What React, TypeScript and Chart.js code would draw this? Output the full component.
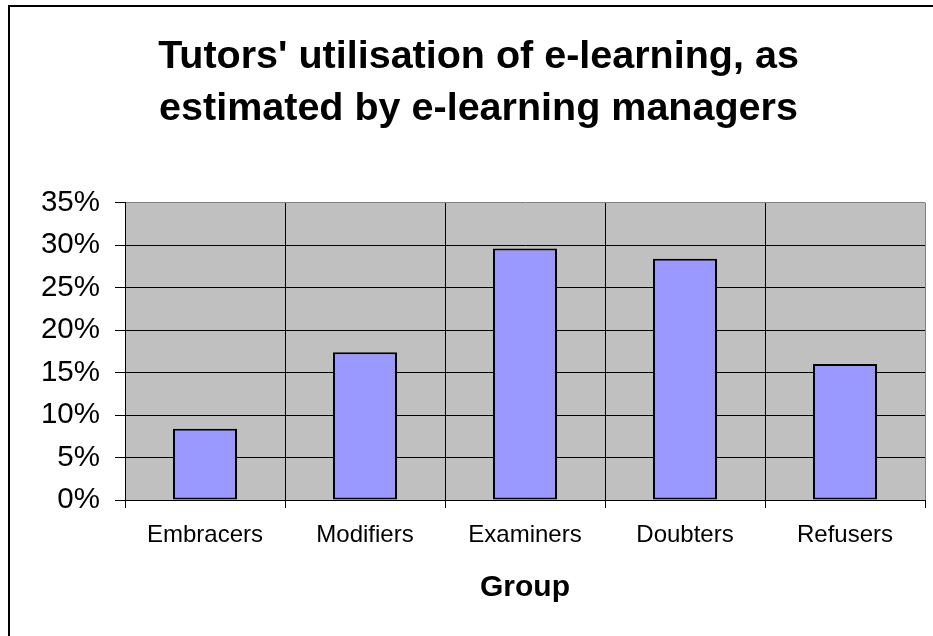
import React, { useEffect, useRef } from "react";
import { Chart, registerables } from "chart.js";

Chart.register(...registerables);

const titleLines = ["Tutors' utilisation of e-learning, as", "estimated by e-learning managers"];
const categories = ["Embracers", "Modifiers", "Examiners", "Doubters", "Refusers"];
const shares = [8.4, 17.4, 29.6, 28.4, 16.0];
const yTicksMax = 35;
const yTickStep = 5;
const xAxisTitle = "Group";

const FONT = "Arial, 'Liberation Sans', sans-serif";

const framePlugin = {
  id: "frame",
  beforeDraw(chart: any) {
    const { ctx, chartArea } = chart;
    ctx.save();
    ctx.fillStyle = "#ffffff";
    ctx.fillRect(0, 0, chart.width, chart.height);
    ctx.fillStyle = "#C0C0C0";
    ctx.fillRect(chartArea.left, chartArea.top, chartArea.right - chartArea.left, chartArea.bottom - chartArea.top);
    ctx.restore();
  },
  afterDraw(chart: any) {
    const { ctx } = chart;
    ctx.save();
    ctx.strokeStyle = "#000000";
    ctx.lineWidth = 2;
    ctx.strokeRect(9, 6, 2000, 2000);
    ctx.fillStyle = "#000000";
    ctx.font = `bold 39.5px ${FONT}`;
    ctx.textAlign = "center";
    ctx.textBaseline = "alphabetic";
    titleLines.forEach((line, i) => {
      ctx.fillText(line, 478.5, 68 + i * 52);
    });
    ctx.restore();
  },
};

export default function App() {
  const ref = useRef<HTMLCanvasElement | null>(null);
  useEffect(() => {
    if (!ref.current) return;
    const chart = new Chart(ref.current, {
      type: "bar",
      data: {
        labels: categories,
        datasets: [
          {
            data: shares,
            backgroundColor: "#9999FF",
            borderColor: "#000000",
            borderWidth: 2,
            borderSkipped: false,
            barPercentage: 0.4,
            categoryPercentage: 1.0,
          },
        ],
      },
      options: {
        responsive: false,
        animation: false,
        layout: { padding: { top: 202.7, left: 0, right: 8, bottom: 0 } },
        plugins: {
          legend: { display: false },
          title: { display: false },
          tooltip: { enabled: false },
        },
        scales: {
          x: {
            grid: {
              offset: true,
              color: (c: any) => (c.type === "tick" ? "#000000" : "#808080"),
              tickColor: "#000000",
              tickLength: 8,
              lineWidth: 1,
            },
            border: { display: true, color: "#000000", width: 1 },
            ticks: {
              color: "#000000",
              font: { family: FONT, size: 24 },
              padding: 13,
              maxRotation: 0,
              autoSkip: false,
            },
            title: {
              display: true,
              text: xAxisTitle,
              color: "#000000",
              font: { family: FONT, size: 30, weight: "bold" },
              padding: { top: 0, bottom: 30.4 },
            },
            afterFit: (scale: any) => {
              scale.height = 136;
            },
          },
          y: {
            min: 0,
            max: yTicksMax,
            grid: {
              color: (c: any) => (c.tick && c.tick.value === yTicksMax ? "#808080" : "#000000"),
              tickColor: "#000000",
              tickLength: 10,
              lineWidth: 1,
            },
            border: { display: true, color: "#000000", width: 1 },
            ticks: {
              stepSize: yTickStep,
              color: "#000000",
              font: { family: FONT, size: 29.5 },
              padding: 15,
              callback: (v: any) => `${v}%`,
            },
            afterFit: (scale: any) => {
              scale.width = 125;
            },
          },
        },
      },
      plugins: [framePlugin],
    });
    return () => chart.destroy();
  }, []);
  return (
    <div style={{ position: "fixed", left: 0, top: 0, width: 933, height: 636 }}>
      <canvas ref={ref} width={933} height={636} style={{ display: "block" }} />
    </div>
  );
}
